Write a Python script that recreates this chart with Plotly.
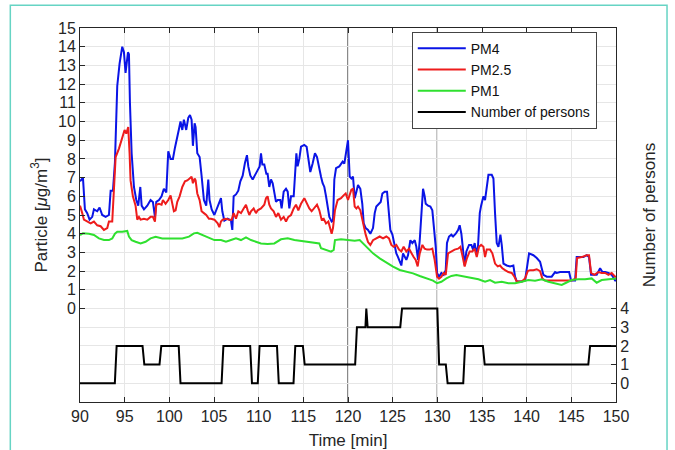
import plotly.graph_objects as go

# ---------------- data ----------------
pm4_t = [90.0, 90.18, 90.33, 90.55, 90.81, 91.07, 91.37, 91.56, 91.93, 92.19, 92.49, 92.87, 93.24, 93.43, 93.69,
         93.91, 94.17, 94.43, 94.73, 94.92, 95.10, 95.37, 95.48, 95.59, 95.78, 96.04, 96.30, 96.52, 96.75, 96.90,
         97.16, 97.53, 97.90, 98.16, 98.39, 98.54, 98.84, 99.13, 99.39, 99.66, 99.88, 100.14, 100.40, 100.63, 100.89,
         101.08, 101.25, 101.45, 101.63, 101.89, 102.12, 102.31, 102.49, 102.64, 102.83, 102.94, 103.13, 103.39,
         103.61, 103.87, 104.13, 104.36, 104.50, 104.74, 105.04, 105.33, 105.60, 105.78, 105.93, 106.16, 106.53,
         106.90, 107.05, 107.20, 107.46, 107.72, 107.95, 108.21, 108.47, 108.69, 108.84, 109.07, 109.33, 109.59,
         109.89, 110.11, 110.26, 110.41, 110.63, 110.86, 111.0, 111.19, 111.38, 111.57, 111.75, 111.94, 112.13,
         112.42, 112.57, 112.80, 113.06, 113.25, 113.43, 113.62, 113.92, 114.07, 114.22, 114.36, 114.55, 114.74,
         115.11, 115.37, 115.56, 115.78, 116.04, 116.30, 116.53, 116.72, 116.98, 117.16, 117.35, 117.54, 117.72,
         117.91, 118.17, 118.32, 118.47, 118.66, 119.03, 119.40, 119.59, 119.74, 120.0, 120.19, 120.38, 120.56,
         120.75, 120.94, 121.12, 121.38, 121.60, 121.76, 121.98, 122.24, 122.50, 122.80, 122.99, 123.17, 123.47,
         123.66, 123.85, 124.11, 124.37, 124.59, 124.74, 124.97, 125.23, 125.41, 125.60, 125.79, 125.97, 126.16,
         126.35, 126.53, 126.72, 126.98, 127.20, 127.47, 127.65, 127.84, 128.03, 128.21, 128.40, 128.58, 128.70,
         128.96, 129.22, 129.44, 129.63, 129.82, 129.97, 130.19, 130.45, 130.71, 130.94, 131.08, 131.31, 131.57,
         131.76, 132.06, 132.32, 132.50, 132.69, 132.88, 133.06, 133.25, 133.55, 133.81, 134.0, 134.18, 134.37,
         134.55, 134.75, 134.90, 135.16, 135.34, 135.53, 135.72, 136.09, 136.28, 136.46, 136.65, 136.84, 137.06,
         137.21, 137.40, 137.77, 138.14, 138.51, 138.70, 138.89, 139.45, 139.82, 140.12, 140.27, 140.75, 141.13,
         141.50, 141.69, 141.87, 142.25, 142.80, 143.18, 143.36, 143.74, 144.30, 144.75, 144.97, 145.42, 145.60,
         145.98, 146.35, 146.72, 146.98, 147.21, 147.47, 147.84, 148.22, 148.48, 148.78, 149.15, 149.52, 149.90,
         150.0]
pm4 = [6.8, 6.9, 7.0, 5.3, 5.1, 4.75, 4.9, 5.3, 5.2, 5.4, 5.0, 4.9, 5.0, 6.3, 6.3,
       7.8, 11.9, 13.1, 14.0, 13.7, 12.6, 13.7, 13.6, 11.0, 8.3, 6.5, 5.8, 5.5, 6.5, 5.5,
       5.3, 5.5, 5.8, 5.7, 4.9, 5.7, 5.8, 6.0, 6.4, 6.2, 8.4, 8.0, 8.0, 8.6, 9.3,
       9.6, 10.0, 9.55, 10.1, 9.55, 10.2, 10.35, 10.1, 8.7, 9.9, 9.7, 8.3, 8.1,
       7.1, 5.8, 5.5, 6.9, 5.8, 5.3, 5.0, 5.35, 5.6, 5.9, 5.2, 4.7, 4.8,
       4.7, 4.2, 6.0, 6.1, 6.3, 6.8, 7.1, 7.8, 8.2, 7.6, 7.1, 6.9, 7.1,
       7.4, 7.6, 8.3, 7.7, 7.7, 7.2, 7.2, 6.5, 6.9, 6.7, 6.25, 5.7, 5.8,
       5.8, 5.35, 6.25, 6.4, 6.25, 5.35, 6.0, 6.0, 7.4, 8.3, 7.6, 8.0, 8.65,
       8.75, 8.65, 7.95, 7.3, 7.75, 8.3, 8.1, 7.6, 7.05, 6.7, 6.5, 6.0, 5.45,
       4.9, 4.65, 4.7, 6.9, 7.5, 7.6, 7.85, 7.75, 8.3, 9.0, 7.05, 6.95, 7.05,
       5.9, 6.25, 6.6, 6.4, 5.6, 4.55, 4.3, 4.2, 4.0, 4.3, 5.1, 5.45, 5.6,
       5.7, 6.15, 6.25, 6.25, 5.1, 4.2, 3.95, 3.3, 2.95, 2.75, 2.5, 2.3, 2.95,
       2.75, 2.6, 2.85, 3.65, 3.5, 3.65, 3.3, 2.6, 3.65, 4.9, 6.4, 6.0, 5.6,
       5.5, 5.45, 5.25, 4.35, 3.3, 1.9, 1.7, 1.9, 1.8, 2.05, 3.5, 3.85, 3.95,
       3.85, 4.0, 4.2, 4.45, 4.0, 2.95, 2.3, 3.05, 3.4, 3.4, 3.15, 3.5, 2.95,
       3.3, 5.1, 5.5, 6.0, 5.8, 6.5, 7.15, 7.15, 6.95, 5.1, 3.5, 3.3, 3.95,
       3.4, 2.4, 2.3, 2.25, 2.3, 1.7, 1.45, 1.45, 1.5, 2.6, 2.95, 2.85, 2.7,
       2.5, 2.15, 1.8, 1.7, 1.7, 1.95, 1.9, 1.95, 1.95, 1.95, 1.5, 1.5, 2.75,
       2.75, 2.75, 2.85, 2.75, 1.8, 1.8, 1.8, 2.15, 1.95, 1.95, 1.9, 1.8, 1.5,
       1.5]

pm25_t = [90.0, 90.07, 90.25, 90.44, 90.81, 91.19, 91.56, 91.93, 92.31, 92.68, 93.05, 93.24, 93.61, 93.80, 93.99,
          94.36, 94.73, 94.99, 95.18, 95.40, 95.55, 95.66, 95.92, 96.22, 96.41, 96.60, 96.78, 97.16, 97.53, 97.90,
          98.16, 98.39, 98.54, 98.84, 99.13, 99.28, 99.58, 99.88, 100.14, 100.33, 100.51, 100.70, 100.89, 101.15,
          101.45, 101.75, 102.01, 102.27, 102.49, 102.64, 102.83, 102.94, 103.13, 103.39, 103.61, 103.87, 104.13,
          104.43, 104.66, 105.04, 105.41, 105.60, 105.78, 105.97, 106.34, 106.72, 106.98, 107.20, 107.46, 107.72,
          108.02, 108.32, 108.58, 108.77, 108.95, 109.14, 109.44, 109.70, 109.89, 110.26, 110.63, 110.82, 111.0,
          111.19, 111.38, 111.68, 111.94, 112.20, 112.50, 112.80, 113.06, 113.32, 113.62, 113.92, 114.18, 114.44,
          114.74, 115.11, 115.41, 115.67, 115.93, 116.23, 116.53, 116.79, 117.05, 117.28, 117.54, 117.80, 118.02,
          118.17, 118.32, 118.54, 118.84, 119.22, 119.51, 119.74, 120.0, 120.19, 120.38, 120.56, 120.75, 120.94,
          121.12, 121.38, 121.60, 121.76, 121.98, 122.24, 122.50, 122.80, 123.17, 123.55, 123.92, 124.29, 124.59,
          124.85, 125.11, 125.41, 125.71, 125.97, 126.23, 126.53, 126.83, 127.09, 127.35, 127.58, 127.80, 128.03,
          128.33, 128.58, 128.85, 129.14, 129.44, 129.70, 129.97, 130.19, 130.45, 130.71, 130.94, 131.20, 131.57,
          131.94, 132.32, 132.58, 132.80, 133.06, 133.32, 133.62, 133.92, 134.18, 134.41, 134.67, 134.90, 135.16,
          135.34, 135.53, 135.90, 136.16, 136.46, 136.76, 137.02, 137.28, 137.58, 137.95, 138.33, 138.63, 138.89,
          139.45, 139.82, 140.12, 140.38, 140.75, 141.13, 141.50, 141.76, 142.06, 142.80, 143.55, 144.30, 145.04,
          145.49, 145.64, 146.16, 146.72, 146.98, 147.21, 147.58, 148.03, 148.40, 148.78, 149.15, 149.52, 149.90,
          150.0]
pm25 = [5.5, 5.35, 5.1, 4.75, 4.65, 4.55, 4.65, 4.45, 4.4, 4.2, 4.3, 4.65, 4.65, 6.15, 8.1,
        8.55, 9.2, 9.55, 9.35, 9.7, 8.3, 6.85, 6.0, 5.5, 4.75, 4.9, 4.75, 4.8, 4.75, 4.9,
        4.9, 4.65, 5.55, 5.6, 5.55, 5.8, 5.6, 5.8, 6.05, 5.55, 5.2, 5.25, 5.7, 6.0,
        6.5, 6.8, 6.85, 6.95, 7.05, 6.7, 6.95, 6.85, 6.15, 5.8, 5.2, 5.1, 5.0,
        4.8, 4.8, 4.75, 4.55, 4.35, 4.65, 4.75, 4.8, 4.75, 4.75, 5.1, 4.8, 5.2,
        5.1, 5.35, 5.55, 5.25, 5.0, 5.2, 5.35, 5.1, 5.25, 5.35, 5.55, 5.9, 6.0,
        5.55, 5.35, 5.2, 4.9, 5.1, 4.75, 4.9, 4.65, 4.9, 5.0, 5.35, 5.55, 5.25,
        5.6, 5.9, 5.6, 5.35, 5.2, 5.35, 5.55, 5.25, 4.75, 4.8, 4.55, 4.65, 4.2,
        4.0, 4.3, 5.25, 5.8, 5.9, 6.05, 6.15, 5.8, 6.05, 6.35, 6.4, 5.45, 5.35,
        5.45, 5.25, 4.75, 4.35, 3.95, 3.55, 3.4, 3.65, 3.75, 3.85, 3.75, 3.85, 3.75,
        3.4, 3.3, 3.4, 3.15, 3.05, 3.3, 3.05, 3.2, 2.95, 2.75, 2.6, 2.25, 2.95,
        3.4, 3.2, 3.15, 3.15, 3.2, 2.6, 1.7, 1.6, 1.7, 1.9, 1.8, 2.95, 3.05,
        3.15, 3.2, 3.3, 2.85, 2.25, 2.7, 3.05, 3.05, 3.2, 2.75, 3.3, 3.4, 3.3,
        2.75, 3.15, 3.15, 2.95, 2.4, 2.25, 2.3, 2.15, 2.05, 1.95, 1.9, 1.7, 1.45,
        1.45, 1.6, 2.0, 2.05, 2.05, 2.1, 2.0, 1.6, 1.5, 1.5, 1.5, 1.5, 1.5,
        1.6, 2.7, 2.75, 2.85, 2.85, 1.9, 1.8, 1.95, 1.9, 1.9, 1.8, 1.9, 1.7,
        1.7]

pm1_t = [90.0, 90.33, 91.0, 91.56, 92.12, 92.68, 93.24, 93.61, 93.91, 94.17, 94.73, 95.29, 95.48, 95.78, 96.22,
         96.78, 97.34, 97.90, 98.46, 99.21, 99.96, 100.70, 101.45, 102.20, 102.75, 103.13, 103.69, 104.29, 105.04,
         105.78, 106.34, 106.90, 107.46, 108.02, 108.58, 109.14, 109.70, 110.26, 111.0, 111.75, 112.50, 113.25,
         114.0, 114.74, 115.48, 116.23, 116.79, 116.98, 117.54, 118.10, 118.40, 118.54, 119.22, 120.0, 120.75,
         121.31, 121.68, 122.24, 122.80, 123.55, 124.29, 125.04, 125.79, 126.53, 127.28, 128.03, 128.77, 129.52,
         129.97, 130.45, 131.01, 131.57, 132.13, 132.69, 133.25, 134.0, 134.60, 135.34, 135.90, 136.46, 137.21,
         137.95, 138.70, 139.45, 140.19, 140.94, 141.69, 142.43, 143.18, 143.92, 144.30, 145.04, 145.79, 146.54,
         147.28, 147.84, 148.40, 149.15, 150.0]
pm1 = [3.93, 4.02, 4.0, 3.93, 3.75, 3.66, 3.66, 3.75, 4.0, 4.1, 4.1, 4.15, 3.85, 3.66, 3.57,
       3.48, 3.57, 3.75, 3.84, 3.75, 3.75, 3.75, 3.75, 3.84, 4.02, 4.05, 3.93, 3.84, 3.66,
       3.66, 3.57, 3.66, 3.75, 3.66, 3.8, 3.66, 3.57, 3.48, 3.45, 3.48, 3.7, 3.75,
       3.66, 3.62, 3.57, 3.52, 3.48, 3.22, 3.13, 3.04, 3.13, 3.66, 3.7, 3.66, 3.62,
       3.66, 3.48, 3.22, 2.95, 2.68, 2.45, 2.24, 2.06, 1.97, 1.88, 1.74, 1.61, 1.49,
       1.35, 1.43, 1.61, 1.74, 1.79, 1.74, 1.67, 1.61, 1.56, 1.43, 1.52, 1.38, 1.43,
       1.35, 1.35, 1.43, 1.52, 1.49, 1.56, 1.43, 1.35, 1.26, 1.35, 1.52, 1.56, 1.56,
       1.61, 1.38, 1.52, 1.56, 1.61]

persons_t = [90, 93.9, 94.1, 97.0, 97.2, 98.9, 99.1, 101.05, 101.25, 105.85, 106.05, 109.05, 109.25, 109.9,
             110.1, 112.05, 112.25, 113.9, 114.1, 114.95, 115.15, 120.8, 121.0, 121.95, 122.05, 122.2, 125.85,
             126.05, 130.0, 130.2, 130.95, 131.15, 132.9, 133.1, 135.1, 135.3, 146.9, 147.1, 150]
persons = [0, 0, 2, 2, 1, 1, 2, 2, 0, 0, 2, 2, 0, 0,
           2, 2, 0, 0, 2, 2, 1, 1, 3, 3, 4, 3, 3,
           4, 4, 1, 1, 0, 0, 2, 2, 1, 1, 2, 2]

x_ticks = list(range(90, 151, 5))
left_ticks = list(range(0, 16))
right_ticks = [0, 1, 2, 3, 4]
marker_times = [120, 130]

# ---------------- figure ----------------
FONT = "Liberation Sans, Arial, Helvetica, sans-serif"
AX = "#262626"
GRID = "#e6e6e6"

fig = go.Figure()
fig.add_trace(go.Scatter(x=pm4_t, y=pm4, mode="lines", name="PM4",
                         line=dict(color="#0a14e6", width=2)))
fig.add_trace(go.Scatter(x=pm25_t, y=pm25, mode="lines", name="PM2.5",
                         line=dict(color="#ee1c1c", width=2)))
fig.add_trace(go.Scatter(x=pm1_t, y=pm1, mode="lines", name="PM1",
                         line=dict(color="#2fe02f", width=2)))
fig.add_trace(go.Scatter(x=persons_t, y=persons, mode="lines", name="Number of persons",
                         line=dict(color="#000000", width=2), yaxis="y2"))

for t in marker_times:
    fig.add_shape(type="line", xref="x", yref="paper", x0=t, x1=t, y0=0, y1=1,
                  line=dict(color="#4a4a4a", width=1.3), layer="between")

# outer teal border of the image
fig.add_shape(type="rect", xref="paper", yref="paper",
              x0=-0.130, x1=1.0952, y0=-0.3, y1=1.0607,
              line=dict(color="#66d4c4", width=1.5))

fig.update_layout(
    width=675, height=450,
    margin=dict(l=80, r=59, t=28, b=48, autoexpand=False),
    paper_bgcolor="white", plot_bgcolor="white",
    font=dict(family=FONT, size=16, color=AX),
    showlegend=True,
    legend=dict(x=0.619, y=0.99, xanchor="left", yanchor="top",
                bgcolor="white", bordercolor="#444444", borderwidth=1,
                font=dict(family=FONT, size=14, color="#111111"),
                itemwidth=48, tracegroupgap=0),
    xaxis=dict(range=[90, 150], tickvals=x_ticks, ticks="inside", ticklen=5,
               tickcolor=AX, showgrid=True, gridcolor=GRID, gridwidth=1,
               showline=True, linecolor=AX, linewidth=1, mirror="ticks",
               zeroline=False, tickfont=dict(size=16), automargin=False,
               title=dict(text="Time [min]", font=dict(size=17), standoff=12)),
    yaxis=dict(range=[-5, 15], tickvals=left_ticks, ticks="inside", ticklen=5,
               tickcolor=AX, showgrid=True, gridcolor=GRID, gridwidth=1,
               showline=True, linecolor=AX, linewidth=1, mirror=True,
               zeroline=False, tickfont=dict(size=16), automargin=False,
               title=dict(text="Particle [<i>μ</i>g/m<sup>3</sup>]", font=dict(size=17), standoff=6)),
    yaxis2=dict(range=[-1, 19], tickvals=right_ticks, ticks="inside", ticklen=5,
                tickcolor=AX, overlaying="y", side="right", showgrid=True,
                gridcolor=GRID, gridwidth=1, zeroline=False, showline=True,
                linecolor=AX, linewidth=1, tickfont=dict(size=16), automargin=False,
                title=dict(text="Number of persons", font=dict(size=17), standoff=14)),
)

fig.write_html("out.html", config={"displayModeBar": False},
               post_script="document.body.style.margin='0px';")
